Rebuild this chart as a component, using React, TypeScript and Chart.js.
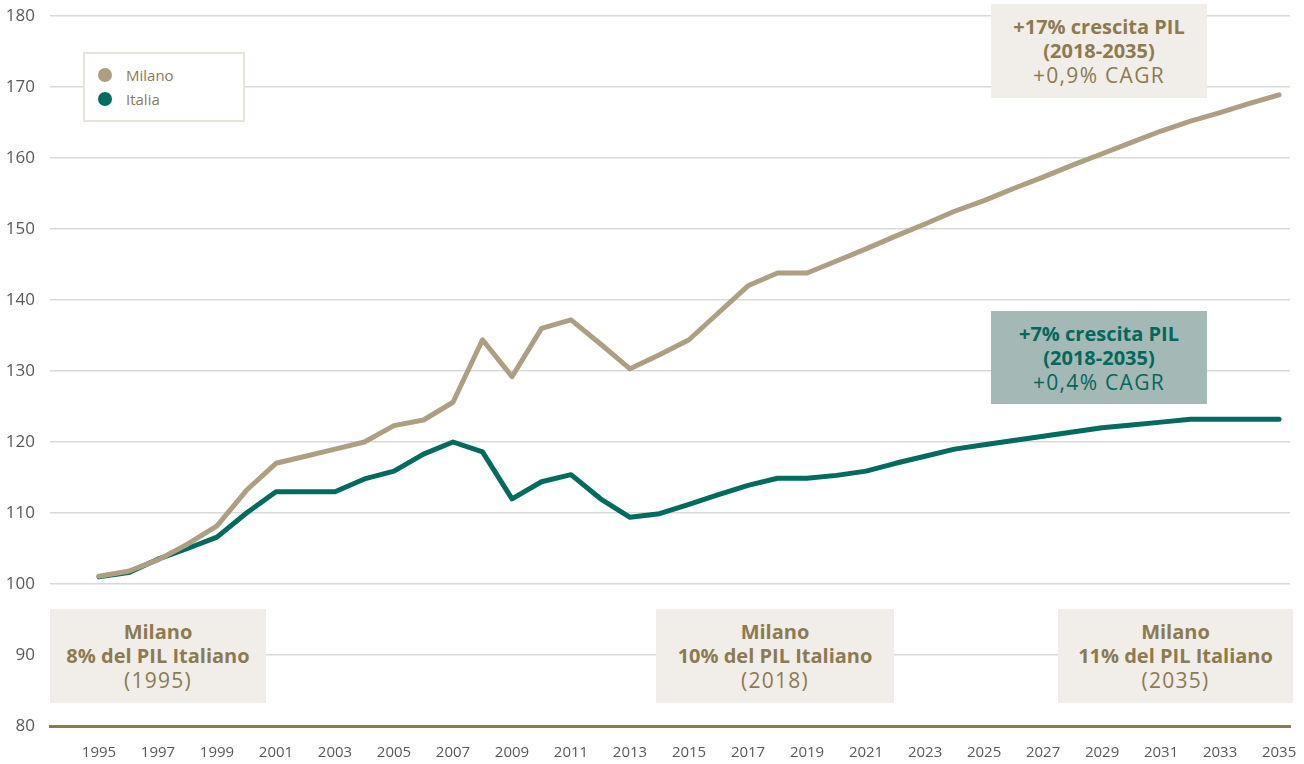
import React, { useEffect, useRef } from "react";
import { Chart, registerables } from "chart.js";

Chart.register(...registerables);

const years = [
  1995, 1996, 1997, 1998, 1999, 2000, 2001, 2002, 2003, 2004, 2005, 2006, 2007, 2008,
  2009, 2010, 2011, 2012, 2013, 2014, 2015, 2016, 2017, 2018, 2019, 2020, 2021, 2022,
  2023, 2024, 2025, 2026, 2027, 2028, 2029, 2030, 2031, 2032, 2033, 2034, 2035,
];

const milano = [
  101.1, 101.8, 103.4, 105.6, 108.2, 113.2, 117.0, 118.0, 119.0, 120.0, 122.3, 123.1, 125.6, 134.4,
  129.2, 136.0, 137.2, 133.8, 130.3, 132.3, 134.4, 138.2, 142.0, 143.8, 143.8, 145.5, 147.2, 149.0,
  150.7, 152.5, 154.0, 155.7, 157.3, 159.0, 160.6, 162.2, 163.8, 165.2, 166.4, 167.7, 168.9,
];

const italia = [
  101.0, 101.6, 103.5, 105.0, 106.6, 110.0, 113.0, 113.0, 113.0, 114.8, 115.9, 118.3, 120.0, 118.6,
  112.0, 114.4, 115.4, 112.0, 109.4, 109.9, 111.2, 112.6, 113.9, 114.9, 114.9, 115.3, 115.9, 117.0,
  118.0, 119.0, 119.6, 120.2, 120.8, 121.4, 122.0, 122.4, 122.8, 123.2, 123.2, 123.2, 123.2,
];

const xTickYears = [
  1995, 1997, 1999, 2001, 2003, 2005, 2007, 2009, 2011, 2013, 2015, 2017, 2019, 2021, 2023,
  2025, 2027, 2029, 2031, 2033, 2035,
];

const seriesNames = ["Milano", "Italia"];
const seriesColors = ["#ae9f82", "#006b5f"];

const growthMilano = ["+17% crescita PIL", "(2018-2035)", "+0,9% CAGR"];
const growthItalia = ["+7% crescita PIL", "(2018-2035)", "+0,4% CAGR"];
const shareNotes = [
  ["Milano", "8% del PIL Italiano", "(1995)"],
  ["Milano", "10% del PIL Italiano", "(2018)"],
  ["Milano", "11% del PIL Italiano", "(2035)"],
];

const FONT = "'Open Sans', 'DejaVu Sans', sans-serif";
const GOLD = "#8c7a51";

function Note({ lines, style, color }: { lines: string[]; style: React.CSSProperties; color: string }) {
  return (
    <div
      style={{
        position: "absolute",
        display: "flex",
        flexDirection: "column",
        alignItems: "center",
        justifyContent: "center",
        fontFamily: FONT,
        color,
        lineHeight: "24px",
        whiteSpace: "nowrap",
        ...style,
      }}
    >
      <div style={{ fontWeight: 700, fontSize: 20 }}>{lines[0]}</div>
      <div style={{ fontWeight: 700, fontSize: 20 }}>{lines[1]}</div>
      <div style={{ fontWeight: 400, fontSize: 21, letterSpacing: "1.3px" }}>{lines[2]}</div>
    </div>
  );
}

export default function App() {
  const canvasRef = useRef<HTMLCanvasElement | null>(null);

  useEffect(() => {
    const canvas = canvasRef.current;
    if (!canvas) return;
    const chart = new Chart(canvas, {
      type: "line",
      data: {
        labels: years,
        datasets: [
          {
            label: seriesNames[0],
            data: years.map((y, i) => ({ x: y, y: milano[i] })),
            borderColor: seriesColors[0],
            backgroundColor: seriesColors[0],
            borderWidth: 5,
            pointRadius: 0,
            tension: 0,
            borderCapStyle: "round",
            borderJoinStyle: "round",
          },
          {
            label: seriesNames[1],
            data: years.map((y, i) => ({ x: y, y: italia[i] })),
            borderColor: seriesColors[1],
            backgroundColor: seriesColors[1],
            borderWidth: 5,
            pointRadius: 0,
            tension: 0,
            borderCapStyle: "round",
            borderJoinStyle: "round",
          },
        ],
      },
      options: {
        animation: false,
        responsive: false,
        maintainAspectRatio: false,
        layout: { padding: { top: 16, right: 14, left: 0, bottom: 0 } },
        plugins: {
          legend: { display: false },
          tooltip: { enabled: false },
        },
        scales: {
          x: {
            type: "linear",
            min: 1993.34,
            max: 2035.37,
            afterBuildTicks: (scale: any) => {
              scale.ticks = xTickYears.map((v) => ({ value: v }));
            },
            afterFit: (scale: any) => {
              scale.height = 38;
              scale.paddingLeft = 0;
              scale.paddingRight = 0;
            },
            grid: { display: false, drawTicks: false },
            border: { display: true, color: GOLD, width: 3 },
            ticks: {
              color: "#595959",
              font: { family: FONT, size: 15 },
              padding: 18,
              maxRotation: 0,
              autoSkip: false,
              callback: (v: any) => String(v),
            },
          },
          y: {
            min: 80,
            max: 180,
            afterFit: (scale: any) => {
              scale.width = 50;
              scale.paddingTop = 0;
              scale.paddingBottom = 0;
            },
            ticks: {
              stepSize: 10,
              color: "#595959",
              font: { family: FONT, size: 17 },
              padding: 15,
            },
            grid: { color: "#d9d9d9", lineWidth: 1.5, drawTicks: false },
            border: { display: false },
          },
        },
      },
    });
    return () => chart.destroy();
  }, []);

  return (
    <div style={{ position: "fixed", left: 0, top: 0, width: 1304, height: 764, background: "#fff" }}>
      <canvas ref={canvasRef} width={1304} height={764} style={{ position: "absolute", left: 0, top: 0 }} />
      <div
        style={{
          position: "absolute",
          left: 83,
          top: 52,
          width: 158,
          height: 66,
          border: "2px solid #e8e2da",
          background: "#fff",
          fontFamily: FONT,
          fontSize: 15,
          color: GOLD,
        }}
      >
        {seriesNames.map((n, i) => (
          <div key={n} style={{ position: "absolute", left: 13, top: 11 + i * 24, height: 20, display: "flex", alignItems: "center" }}>
            <span style={{ display: "inline-block", width: 14, height: 14, borderRadius: 7, background: seriesColors[i] }} />
            <span style={{ marginLeft: 14, lineHeight: "20px" }}>{n}</span>
          </div>
        ))}
      </div>
      <Note lines={growthMilano} color={GOLD} style={{ left: 991, top: 4, width: 216, height: 94, background: "#f1eee9" }} />
      <Note lines={growthItalia} color="#00695c" style={{ left: 991, top: 311, width: 216, height: 93, background: "#a4b8b5" }} />
      <Note lines={shareNotes[0]} color={GOLD} style={{ left: 50, top: 609, width: 216, height: 94, background: "#f1eee9" }} />
      <Note lines={shareNotes[1]} color={GOLD} style={{ left: 656, top: 609, width: 238, height: 94, background: "#f1eee9" }} />
      <Note lines={shareNotes[2]} color={GOLD} style={{ left: 1058, top: 609, width: 235, height: 94, background: "#f1eee9" }} />
    </div>
  );
}
